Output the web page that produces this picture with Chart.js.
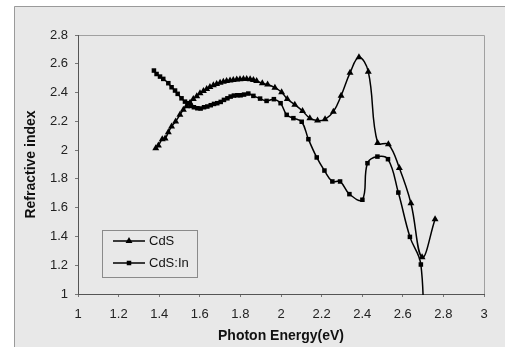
<!DOCTYPE html>
<html>
<head>
<meta charset="utf-8">
<script src="https://cdn.jsdelivr.net/npm/chart.js@4/dist/chart.umd.min.js"></script>
<style>
    html, body { margin: 0; padding: 0; background: #fff; }
    #wrap { width: 505px; height: 347px; }
</style>
</head>
<body>
<div id="wrap"><canvas id="grafico" width="505" height="347"></canvas></div>
<script>
// CdS (triangulos)
const cdsEnergy = [1.383, 1.396, 1.415, 1.429, 1.445, 1.461, 1.481, 1.502, 1.519, 1.535, 1.552, 1.568, 1.585, 1.601, 1.618, 1.634, 1.650, 1.667, 1.683, 1.700, 1.716, 1.732, 1.749, 1.765, 1.782, 1.798, 1.815, 1.831, 1.848, 1.864, 1.880, 1.908, 1.934, 1.970, 2.003, 2.031, 2.068, 2.106, 2.142, 2.180, 2.217, 2.258, 2.296, 2.340, 2.384, 2.430, 2.476, 2.529, 2.583, 2.640, 2.695, 2.759];
const cdsIndex = [2.013, 2.032, 2.076, 2.080, 2.124, 2.164, 2.199, 2.245, 2.280, 2.305, 2.330, 2.355, 2.375, 2.395, 2.410, 2.425, 2.438, 2.450, 2.460, 2.468, 2.475, 2.480, 2.484, 2.487, 2.490, 2.492, 2.494, 2.494, 2.492, 2.488, 2.480, 2.464, 2.456, 2.434, 2.402, 2.355, 2.316, 2.272, 2.222, 2.205, 2.214, 2.267, 2.378, 2.537, 2.645, 2.545, 2.050, 2.041, 1.875, 1.631, 1.255, 1.520];

// CdS:In (cuadrados)
const cdsInEnergy = [1.374, 1.387, 1.404, 1.420, 1.445, 1.461, 1.478, 1.491, 1.510, 1.527, 1.540, 1.555, 1.571, 1.588, 1.604, 1.621, 1.637, 1.654, 1.670, 1.686, 1.703, 1.719, 1.736, 1.752, 1.768, 1.785, 1.801, 1.818, 1.839, 1.864, 1.897, 1.929, 1.965, 1.998, 2.028, 2.061, 2.102, 2.135, 2.176, 2.214, 2.253, 2.291, 2.337, 2.401, 2.426, 2.475, 2.527, 2.578, 2.635, 2.689, 2.703];
const cdsInIndex = [2.553, 2.529, 2.511, 2.495, 2.465, 2.437, 2.414, 2.391, 2.360, 2.337, 2.326, 2.307, 2.298, 2.291, 2.289, 2.298, 2.303, 2.312, 2.321, 2.326, 2.335, 2.349, 2.360, 2.372, 2.379, 2.381, 2.381, 2.386, 2.393, 2.377, 2.358, 2.342, 2.354, 2.326, 2.245, 2.222, 2.197, 2.076, 1.949, 1.858, 1.782, 1.782, 1.694, 1.655, 1.909, 1.955, 1.937, 1.705, 1.397, 1.205, 0.6];

const seriesLabels = ['CdS', 'CdS:In'];

const FONT = 'Liberation Sans, Arial, sans-serif';
const GRIS = '#e8e8e8';

const toPoints = (xs, ys) => xs.map((x, i) => ({ x: x, y: ys[i] }));

// Fondo y borde del area del grafico
const fondo = {
    id: 'fondo',
    beforeDraw: (chart) => {
        const ctx = chart.ctx;
        ctx.save();
        ctx.fillStyle = '#fff';
        ctx.fillRect(0, 0, chart.width, chart.height);
        ctx.fillStyle = GRIS;
        ctx.fillRect(14, 6, chart.width - 14, chart.height - 6);
        ctx.strokeStyle = '#9a9a9a';
        ctx.lineWidth = 1;
        ctx.beginPath();
        ctx.moveTo(14.5, chart.height);
        ctx.lineTo(14.5, 6.5);
        ctx.lineTo(chart.width, 6.5);
        ctx.stroke();
        const a = chart.chartArea;
        ctx.strokeStyle = '#a0a0a0';
        ctx.beginPath();
        ctx.moveTo(a.left, a.top + 0.5);
        ctx.lineTo(a.right + 0.5, a.top + 0.5);
        ctx.lineTo(a.right + 0.5, a.bottom);
        ctx.stroke();
        ctx.restore();
    }
};

// Leyenda dentro del area de trazado
const leyenda = {
    id: 'leyenda',
    afterDatasetsDraw: (chart) => {
        const ctx = chart.ctx;
        const box = { x: 102, y: 230, w: 95, h: 47 };
        ctx.save();
        ctx.fillStyle = GRIS;
        ctx.fillRect(box.x, box.y, box.w, box.h);
        ctx.strokeStyle = '#8a8a8a';
        ctx.lineWidth = 1;
        ctx.strokeRect(box.x + 0.5, box.y + 0.5, box.w, box.h);
        chart.data.datasets.forEach((ds, i) => {
            const y = box.y + 11 + i * 22;
            ctx.strokeStyle = '#000';
            ctx.lineWidth = 1.5;
            ctx.beginPath();
            ctx.moveTo(113, y);
            ctx.lineTo(145, y);
            ctx.stroke();
            ctx.fillStyle = '#000';
            Chart.helpers.drawPoint(ctx, { pointStyle: ds.pointStyle, radius: ds.pointRadius, rotation: 0, borderWidth: 0 }, 129, y);
            ctx.fillStyle = '#111';
            ctx.font = '13px ' + FONT;
            ctx.textBaseline = 'middle';
            ctx.textAlign = 'left';
            ctx.fillText(ds.label, 149, y);
        });
        ctx.restore();
    }
};

const formato = (v) => String(Number(v.toFixed(1)));

new Chart(document.getElementById('grafico').getContext('2d'), {
    type: 'line',
    data: {
        datasets: [{
            label: seriesLabels[0],
            data: toPoints(cdsEnergy, cdsIndex),
            borderColor: '#000',
            backgroundColor: '#000',
            borderWidth: 1.5,
            pointStyle: 'triangle',
            pointRadius: 4,
            pointBorderWidth: 0,
            tension: 0.4
        }, {
            label: seriesLabels[1],
            data: toPoints(cdsInEnergy, cdsInIndex),
            borderColor: '#000',
            backgroundColor: '#000',
            borderWidth: 1.5,
            pointStyle: 'rect',
            pointRadius: 3.2,
            pointBorderWidth: 0,
            tension: 0.4,
            clip: 1
        }]
    },
    options: {
        responsive: false,
        animation: false,
        layout: { padding: { left: 0, top: 35, right: 21, bottom: 0 } },
        plugins: { legend: { display: false }, tooltip: { enabled: false } },
        scales: {
            x: {
                type: 'linear',
                min: 1,
                max: 3,
                afterFit: (s) => { s.height = 53; },
                ticks: { stepSize: 0.2, padding: 10, color: '#222', font: { family: FONT, size: 13 }, callback: formato, maxRotation: 0 },
                grid: { drawOnChartArea: false, tickLength: 3, color: '#777' },
                border: { color: '#555' },
                title: { display: true, text: 'Photon Energy(eV)', color: '#111', font: { family: FONT, size: 14, weight: 'bold' }, padding: { top: 0, bottom: 2 } }
            },
            y: {
                type: 'linear',
                min: 1,
                max: 2.8,
                afterFit: (s) => { s.width = 78; },
                ticks: { stepSize: 0.2, padding: 7, color: '#222', font: { family: FONT, size: 13 }, callback: formato },
                grid: { drawOnChartArea: false, tickLength: 3, color: '#777' },
                border: { color: '#555' },
                title: { display: true, text: 'Refractive index', color: '#111', font: { family: FONT, size: 14, weight: 'bold' }, padding: { top: 23, bottom: 0 } }
            }
        }
    },
    plugins: [fondo, leyenda]
});
</script>
</body>
</html>
